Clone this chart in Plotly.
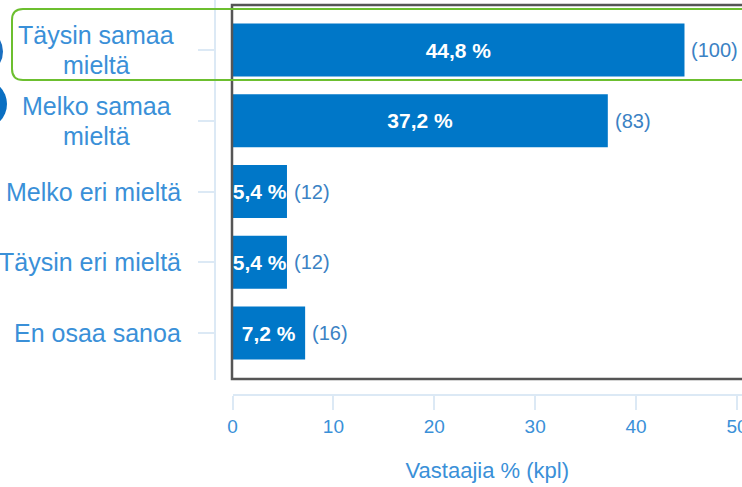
import plotly.graph_objects as go

# Survey answers (Finnish Likert scale) with shares and respondent counts
categories = ["Täysin samaa<br>mieltä", "Melko samaa<br>mieltä", "Melko eri mieltä",
              "Täysin eri mieltä", "En osaa sanoa"]
percent = [44.8, 37.2, 5.4, 5.4, 7.2]
counts = [100, 83, 12, 12, 16]
x_ticks = [0, 10, 20, 30, 40, 50]

W, H = 742, 487
FONT = "Liberation Sans, Arial, sans-serif"
BAR = "#0077c8"
TEXT_BLUE = "#3a90d8"
AXIS = "#dce9f5"
LINE_GAP = 30  # px between lines of a wrapped category label


def px(x):
    return x / W


def py(y):
    return 1 - y / H


fig = go.Figure()
fig.add_trace(go.Bar(
    x=percent,
    y=categories,
    orientation="h",
    width=0.75,
    marker=dict(color=BAR, line=dict(width=0)),
    text=[f"{v:.1f} %".replace(".", ",") for v in percent],
    textposition="inside",
    insidetextanchor="middle",
    constraintext="none",
    textfont=dict(family=FONT, size=21, color="white", weight="bold"),
    hoverinfo="skip",
))

annotations = []
# respondent counts next to each bar
for cat, v, n in zip(categories, percent, counts):
    annotations.append(dict(
        x=v, y=cat, xref="x", yref="y", text=f"({n})", showarrow=False,
        xanchor="left", xshift=5,
        font=dict(family=FONT, size=20, color="#3b82c4"),
    ))
# category labels; wrapped ones are centred line by line
for cat in categories:
    lines = cat.split("<br>")
    label_font = dict(family=FONT, size=25, color=TEXT_BLUE)
    if len(lines) == 1:
        annotations.append(dict(
            x=px(183), y=cat, xref="paper", yref="y", text=cat, showarrow=False,
            xanchor="right", font=label_font,
        ))
    else:
        for i, line in enumerate(lines):
            shift = ((len(lines) - 1) / 2 - i) * LINE_GAP
            annotations.append(dict(
                x=px(96), y=cat, xref="paper", yref="y", text=line, showarrow=False,
                xanchor="center", yshift=shift, font=label_font,
            ))

shapes = [
    # selection frame around the plot area
    dict(type="rect", xref="paper", yref="paper",
         x0=px(232), x1=px(760), y0=py(379), y1=py(5),
         line=dict(color="#555555", width=2.5), layer="above"),
    # badge circles at the left edge
    dict(type="circle", xref="paper", yref="paper",
         x0=px(-42.5), x1=px(1.5), y0=py(73.5), y1=py(29.5),
         line=dict(color="#1a6fc0", width=3)),
    dict(type="circle", xref="paper", yref="paper",
         x0=px(-43), x1=px(7), y0=py(129), y1=py(79),
         fillcolor="#0a6fc2", line=dict(width=0)),
]

# rounded highlight box around the first row
l, r, t, b, rad = 12, 770, 9, 80, 11
path = (f"M {px(l + rad)},{py(t)} L {px(r)},{py(t)} L {px(r)},{py(b)} "
        f"L {px(l + rad)},{py(b)} Q {px(l)},{py(b)} {px(l)},{py(b - rad)} "
        f"L {px(l)},{py(t + rad)} Q {px(l)},{py(t)} {px(l + rad)},{py(t)} Z")
shapes.append(dict(type="path", xref="paper", yref="paper", path=path,
                   line=dict(color="#6cbf2f", width=2), layer="above"))

fig.update_layout(
    width=W, height=H, autosize=False,
    margin=dict(l=0, r=0, t=0, b=0, autoexpand=False),
    paper_bgcolor="white", plot_bgcolor="white",
    showlegend=False,
    font=dict(family=FONT),
    uniformtext=dict(minsize=21, mode="show"),
    xaxis=dict(
        domain=[px(232.5), 1], range=[0, 50.5],
        anchor="free", position=py(395), automargin=False,
        tickvals=x_ticks, ticktext=[str(t) for t in x_ticks],
        ticklabeloverflow="allow",
        showline=True, linecolor=AXIS, linewidth=2,
        ticks="outside", ticklen=14, tickwidth=2, tickcolor=AXIS,
        tickfont=dict(family=FONT, size=19, color=TEXT_BLUE),
        showgrid=False, zeroline=False,
        title=dict(text="Vastaajia % (kpl)", standoff=26,
                   font=dict(family=FONT, size=22, color=TEXT_BLUE)),
    ),
    yaxis=dict(
        domain=[py(380), 1],
        type="category", categoryarray=categories,
        range=[4.664, -0.7067],
        anchor="free", position=px(215), automargin=False,
        showline=True, linecolor=AXIS, linewidth=2,
        ticks="outside", ticklen=16, tickwidth=2, tickcolor=AXIS,
        showticklabels=False, showgrid=False, zeroline=False,
    ),
    annotations=annotations,
    shapes=shapes,
)

fig.write_html("out.html")
